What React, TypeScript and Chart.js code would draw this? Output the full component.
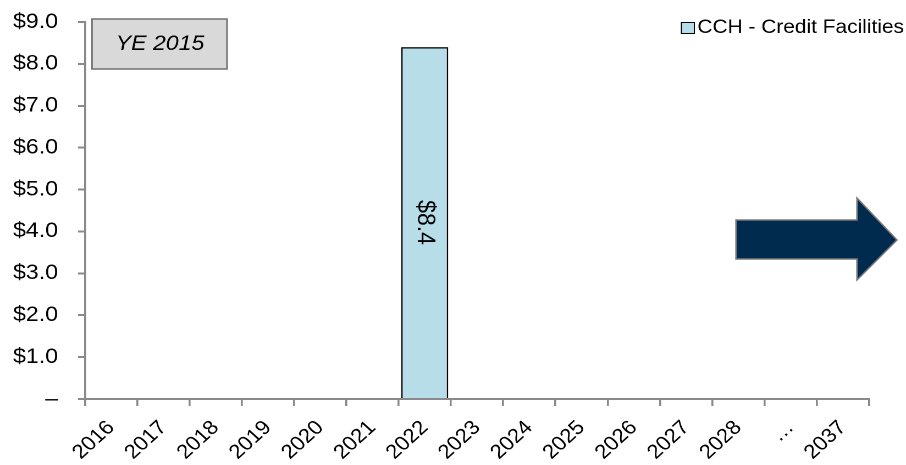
import React, { useEffect, useRef } from "react";
import { Chart, registerables } from "chart.js";

Chart.register(...registerables);

const categories = ["2016", "2017", "2018", "2019", "2020", "2021", "2022", "2023", "2024", "2025", "2026", "2027", "2028", "…", "2037"];
const creditFacilities = [null, null, null, null, null, null, 8.4, null, null, null, null, null, null, null, null];
const seriesLabel = "CCH - Credit Facilities";
const yTicks = { min: 0, max: 9, step: 1 };
const boxText = "YE 2015";

const FONT = "'Liberation Sans', Arial, sans-serif";
const AXIS = "#8a8a8a";
// the reference's glyphs are a little wider than Liberation Sans: draw on a slightly narrower canvas, shown stretched
const PAGE_W = 906;
const PAGE_H = 465;
const SX = 1.1;
const LW = Math.round(PAGE_W / SX);
const X = (v: number) => (v * LW) / PAGE_W;

const decor = {
  id: "decor",
  afterDatasetsDraw(chart: any) {
    const ctx = chart.ctx;
    const meta = chart.getDatasetMeta(0);
    meta.data.forEach((el: any, i: number) => {
      const v = creditFacilities[i];
      if (v == null) return;
      const cy = (el.y + el.base) / 2;
      ctx.save();
      ctx.translate(el.x, cy);
      ctx.rotate(Math.PI / 2);
      ctx.font = `23px ${FONT}`;
      ctx.fillStyle = "#000";
      ctx.textAlign = "center";
      ctx.textBaseline = "middle";
      ctx.fillText("$" + v.toFixed(1), 0, 0);
      ctx.restore();
    });
  },
  afterDraw(chart: any) {
    const ctx = chart.ctx;
    ctx.save();
    // YE box
    ctx.fillStyle = "#d9d9d9";
    ctx.strokeStyle = "#707070";
    ctx.lineWidth = 1.5;
    ctx.fillRect(X(92), 19, X(135), 50);
    ctx.strokeRect(X(92), 19, X(135), 50);
    ctx.fillStyle = "#000";
    ctx.font = `italic 21px ${FONT}`;
    ctx.textAlign = "center";
    ctx.textBaseline = "middle";
    ctx.fillText(boxText, X(160), 44);
    // legend
    const ds = chart.data.datasets[0];
    ctx.font = `19px ${FONT}`;
    ctx.textAlign = "right";
    ctx.textBaseline = "middle";
    ctx.fillText(ds.label, X(904), 28);
    const w = ctx.measureText(ds.label).width;
    const bx = X(904) - w - X(3) - X(13);
    ctx.fillStyle = ds.backgroundColor;
    ctx.fillRect(bx, 22, X(13), 11);
    ctx.strokeStyle = "#000";
    ctx.lineWidth = 1;
    ctx.strokeRect(bx, 22.5, X(13), 11);
    // arrow
    ctx.beginPath();
    ctx.moveTo(X(736), 220);
    ctx.lineTo(X(857), 220);
    ctx.lineTo(X(857), 198);
    ctx.lineTo(X(897), 240);
    ctx.lineTo(X(857), 280);
    ctx.lineTo(X(857), 259);
    ctx.lineTo(X(736), 259);
    ctx.closePath();
    ctx.fillStyle = "#002a4e";
    ctx.fill();
    ctx.strokeStyle = "#7a7a7a";
    ctx.lineWidth = 1.4;
    ctx.stroke();
    ctx.restore();
  },
};

export default function App() {
  const ref = useRef<HTMLCanvasElement>(null);
  useEffect(() => {
    if (!ref.current) return;
    const chart = new Chart(ref.current, {
      type: "bar",
      data: {
        labels: categories,
        datasets: [
          {
            label: seriesLabel,
            data: creditFacilities as any,
            backgroundColor: "#b7dde8",
            borderColor: "#000",
            borderWidth: 1.4,
            categoryPercentage: 0.9,
            barPercentage: 1,
          },
        ],
      },
      options: {
        animation: false,
        responsive: false,
        maintainAspectRatio: false,
        devicePixelRatio: 2,
        layout: { padding: { left: 0, right: LW - X(869), top: 22, bottom: 0 } },
        plugins: { legend: { display: false }, tooltip: { enabled: false } },
        scales: {
          x: {
            grid: { display: true, drawOnChartArea: false, drawTicks: true, tickLength: 7, color: AXIS, lineWidth: 1.8, offset: true },
            border: { color: AXIS, width: 2 },
            ticks: { color: "#000", font: { family: FONT, size: 20 }, minRotation: 45, maxRotation: 45, padding: 10, autoSkip: false },
            afterFit(scale: any) { scale.height = 66; },
          },
          y: {
            min: yTicks.min,
            max: yTicks.max,
            grid: { display: true, drawOnChartArea: false, drawTicks: true, tickLength: X(7), color: AXIS, lineWidth: 2 },
            border: { color: AXIS, width: 1.8 },
            ticks: {
              stepSize: yTicks.step,
              color: "#000",
              font: { family: FONT, size: 21 },
              padding: X(20),
              callback: (v: any) => (Number(v) === 0 ? "–" : "$" + Number(v).toFixed(1)),
            },
            afterFit(scale: any) {
              scale.width = X(85);
              scale.paddingTop = 0;
              scale.paddingBottom = 0;
            },
          },
        },
      },
      plugins: [decor],
    });
    return () => chart.destroy();
  }, []);
  return (
    <div style={{ position: "fixed", left: 0, top: 0, width: PAGE_W, height: PAGE_H, background: "#fff" }}>
      <canvas ref={ref} width={LW} height={PAGE_H} style={{ width: PAGE_W, height: PAGE_H }} />
    </div>
  );
}
